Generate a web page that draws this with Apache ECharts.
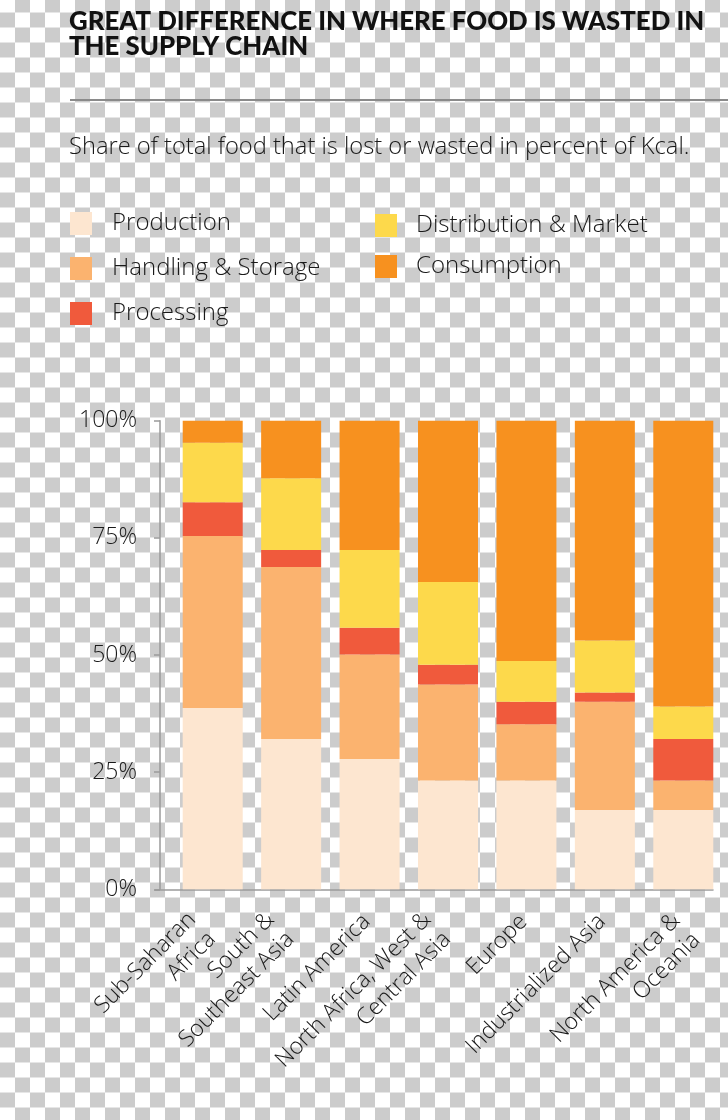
<!DOCTYPE html>
<html>
<head>
<meta charset="utf-8">
<script src="https://cdn.jsdelivr.net/npm/echarts@6/dist/echarts.min.js"></script>
<style>
html,body{margin:0;padding:0;}
body{
  width:728px;height:1120px;overflow:hidden;
  background-color:#ffffff;
  background-image:conic-gradient(#cccccc 25%, #ffffff 0 50%, #cccccc 0 75%, #ffffff 0);
  background-size:30px 30px;
  background-position:0 -2.5px;
}
#chart{width:728px;height:1120px;}
</style>
</head>
<body>
<div id="chart"></div>
<script>
// ---- data ----
const categories = [
  'Sub-Saharan\nAfrica',
  'South &\nSoutheast Asia',
  'Latin America',
  'North Africa, West &\nCentral Asia',
  'Europe',
  'Industrialized Asia',
  'North America &\nOceania'
];
const seriesNames = ['Production', 'Handling & Storage', 'Processing', 'Distribution & Market', 'Consumption'];
const production   = [38.7, 32.1, 27.8, 23.2, 23.2, 16.9, 16.9];
const handling     = [36.7, 36.7, 22.3, 20.5, 12.0, 23.1, 6.3];
const processing   = [7.2, 3.6, 5.7, 4.2, 4.8, 2.0, 8.9];
const distribution = [12.7, 15.3, 16.6, 17.7, 8.7, 11.1, 6.9];
const consumption  = [4.7, 12.3, 27.6, 34.4, 51.3, 46.9, 61.0];
const yTicks = [0, 25, 50, 75, 100];

// ---- styling (kept apart from the data) ----
const colors = ['#FDE6D0', '#FBB36F', '#F05A3C', '#FDD94B', '#F7911F'];
const labelStyleKey = ['w', 'w', 's', 'w', 's', 's', 'd'];
const values = [production, handling, processing, distribution, consumption];

const BODY = '"Open Sans", Lato, sans-serif';
const HEAD = 'Lato, "Open Sans", sans-serif';
const chart = echarts.init(document.getElementById('chart'), null, {renderer: 'canvas'});

const series = seriesNames.map((n, i) => ({
  name: n,
  type: 'bar',
  stack: 'total',
  xAxisIndex: 0,
  yAxisIndex: 0,
  barWidth: 60,
  itemStyle: {color: colors[i]},
  emphasis: {disabled: true},
  data: values[i]
}));

const labelFont = {fontFamily: BODY, fontWeight: 300, fontSize: 23, lineHeight: 28, color: '#1a1a1a'};
const rich = {
  s: Object.assign({}, labelFont, {padding: [0, 4, 0, 0]}),
  w: Object.assign({}, labelFont, {padding: [0, 15, 0, 0]}),
  d: Object.assign({}, labelFont, {padding: [0, 6, 0, 0]}),
  sp: Object.assign({}, labelFont, {lineHeight: 21, fontSize: 10})
};
function labelFormatter(val, idx) {
  const key = labelStyleKey[idx];
  const lines = val.split('\n').map(l => '{' + key + '|' + l + '}');
  if (key === 'd') lines.unshift('{sp| }');
  return lines.join('\n');
}

const legendText = {fontFamily: BODY, fontWeight: 300, fontSize: 24, lineHeight: 24, color: '#1a1a1a', padding: [0, 0, 0, 15]};

chart.setOption({
  animation: false,
  backgroundColor: 'transparent',
  title: [
    {
      text: 'GREAT DIFFERENCE IN WHERE FOOD IS WASTED IN\nTHE SUPPLY CHAIN',
      left: 69, top: 9, padding: 0,
      textStyle: {fontFamily: HEAD, fontWeight: 900, fontSize: 25.8, lineHeight: 25, color: '#111'}
    },
    {
      text: 'Share of total food that is lost or wasted in percent of Kcal.',
      left: 69, top: 135, padding: 0,
      textStyle: {fontFamily: BODY, fontWeight: 300, fontSize: 23.7, lineHeight: 24, color: '#1a1a1a'}
    }
  ],
  graphic: [
    {type: 'line', shape: {x1: 70, y1: 100, x2: 728, y2: 100}, style: {stroke: '#8a8a8a', lineWidth: 2}}
  ],
  legend: [
    {
      data: seriesNames.slice(0, 3), orient: 'vertical', left: 70, top: 211.5, padding: 0,
      icon: 'rect', itemWidth: 22, itemHeight: 23, itemGap: 21,
      selectedMode: false, textStyle: legendText
    },
    {
      data: seriesNames.slice(3), orient: 'vertical', left: 375, top: 213.5, padding: 0,
      icon: 'rect', itemWidth: 22, itemHeight: 23, itemGap: 17,
      selectedMode: false, textStyle: Object.assign({}, legendText, {padding: [0, 0, 0, 14]})
    }
  ],
  grid: [
    {left: 173.5, right: 5.5, top: 420.7, bottom: 230.7},
    {left: 155, right: 15, top: 420.7, bottom: 230.7}
  ],
  xAxis: [
    {
      type: 'category', gridIndex: 0, data: categories,
      axisLine: {show: false}, axisTick: {show: false},
      axisLabel: Object.assign({interval: 0, rotate: 45, margin: 26, formatter: labelFormatter, rich: rich}, labelFont)
    },
    {
      type: 'value', gridIndex: 1, min: 0, max: 1,
      axisLine: {show: true, lineStyle: {color: '#9a9a9a', width: 1.5}},
      axisTick: {show: false}, axisLabel: {show: false}, splitLine: {show: false}
    }
  ],
  yAxis: [
    {
      type: 'value', gridIndex: 0, min: yTicks[0], max: yTicks[yTicks.length - 1], interval: 25,
      offset: 13.5,
      axisLine: {show: true, lineStyle: {color: '#9a9a9a', width: 1.5}},
      axisTick: {show: true, length: 6, lineStyle: {color: '#9a9a9a', width: 1.5}},
      splitLine: {show: false},
      axisLabel: {
        margin: 23, formatter: '{value}%',
        fontFamily: BODY, fontWeight: 300, fontSize: 23, color: '#1a1a1a'
      }
    },
    {type: 'value', gridIndex: 1, show: false, min: 0, max: 1}
  ],
  series: series
});
</script>
</body>
</html>
